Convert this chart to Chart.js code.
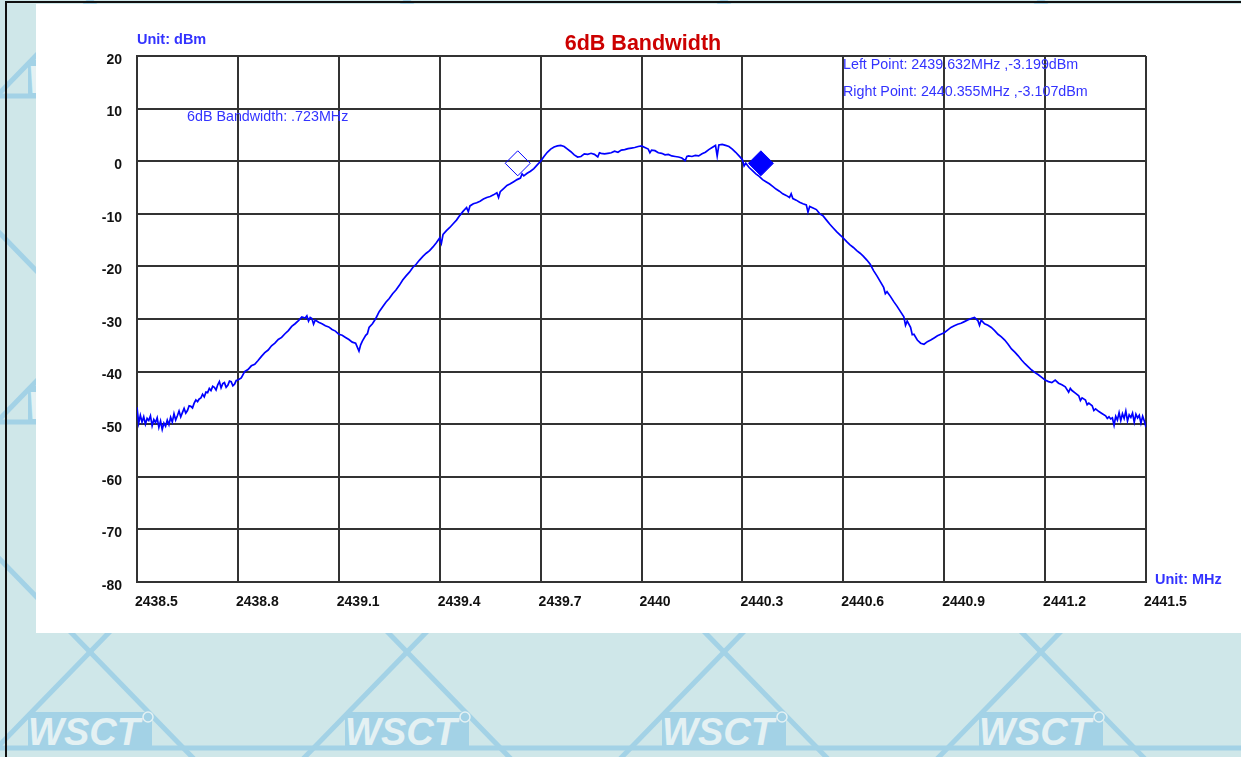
<!DOCTYPE html>
<html>
<head>
<meta charset="utf-8">
<script src="https://cdn.jsdelivr.net/npm/chart.js@4.4.0/dist/chart.umd.min.js"></script>
<style>
html, body { margin: 0; padding: 0; }
body { width: 1241px; height: 757px; position: relative; overflow: hidden; background: #cfe7e9; font-family: "Liberation Sans", Arial, sans-serif; }
#wm { position: absolute; left: 0; top: 0; }
#frameTop { position: absolute; left: 5px; top: 1px; width: 1236px; height: 2px; background: #111; }
#frameLeft { position: absolute; left: 5px; top: 1px; width: 2px; height: 756px; background: #111; }
#panel { position: absolute; left: 36px; top: 4px; width: 1205px; height: 629px; background: #fff; }
</style>
</head>
<body>
<svg id="wm" width="1241" height="757" xmlns="http://www.w3.org/2000/svg"></svg>
<div id="frameTop"></div>
<div id="frameLeft"></div>
<div id="panel"><canvas id="chart"></canvas></div>
<script>
// ==================== DATA ====================
const chartTitle = '6dB Bandwidth';
const yUnitLabel = 'Unit: dBm';
const xUnitLabel = 'Unit: MHz';
const bandwidthText = '6dB Bandwidth: .723MHz';
const leftPointText = 'Left Point: 2439.632MHz ,-3.199dBm';
const rightPointText = 'Right Point: 2440.355MHz ,-3.107dBm';

const freqTicks = [2438.5, 2438.8, 2439.1, 2439.4, 2439.7, 2440, 2440.3, 2440.6, 2440.9, 2441.2, 2441.5];
const freqTickLabels = ['2438.5', '2438.8', '2439.1', '2439.4', '2439.7', '2440', '2440.3', '2440.6', '2440.9', '2441.2', '2441.5'];
const levelTicks = [20, 10, 0, -10, -20, -30, -40, -50, -60, -70, -80];
const levelTickLabels = ['20', '10', '0', '-10', '-20', '-30', '-40', '-50', '-60', '-70', '-80'];

// marker positions as drawn on the trace [MHz, dBm]
const leftMarker = [2439.632, -0.4];
const rightMarker = [2440.355, -0.4];

// trace [MHz, dBm]
const tracePoints = [
  [2438.500,-46.8],[2438.505,-49.8],[2438.510,-48.3],[2438.515,-49.6],[2438.520,-48.6],[2438.525,-50.0],
  [2438.530,-48.9],[2438.535,-49.3],[2438.540,-48.4],[2438.545,-50.3],[2438.550,-49.1],[2438.555,-49.7],
  [2438.560,-48.8],[2438.565,-50.6],[2438.570,-49.4],[2438.575,-51.0],[2438.580,-49.8],[2438.585,-50.4],
  [2438.590,-49.2],[2438.595,-50.1],[2438.600,-48.7],[2438.605,-49.6],[2438.610,-48.0],[2438.615,-49.2],
  [2438.620,-48.4],[2438.625,-47.5],[2438.630,-48.6],[2438.635,-47.8],[2438.640,-47.0],[2438.645,-47.9],
  [2438.650,-47.4],[2438.655,-46.5],[2438.660,-46.6],[2438.665,-46.9],[2438.670,-46.0],[2438.675,-45.4],
  [2438.680,-45.7],[2438.685,-45.2],[2438.690,-45.0],[2438.695,-44.3],[2438.700,-44.8],[2438.705,-43.9],
  [2438.710,-44.0],[2438.715,-43.2],[2438.720,-43.6],[2438.725,-42.8],[2438.730,-43.0],[2438.735,-43.5],
  [2438.740,-42.5],[2438.745,-41.9],[2438.750,-43.1],[2438.755,-42.3],[2438.760,-42.1],[2438.765,-43.0],
  [2438.770,-42.6],[2438.775,-41.8],[2438.780,-41.9],[2438.785,-42.7],[2438.790,-42.4],[2438.795,-41.7],
  [2438.800,-41.6],[2438.810,-41.2],[2438.820,-40.0],[2438.830,-39.6],
  [2438.840,-38.9],[2438.850,-38.6],[2438.860,-37.9],[2438.870,-37.1],[2438.880,-36.4],[2438.890,-35.9],
  [2438.900,-35.1],[2438.910,-34.6],[2438.920,-33.9],[2438.930,-33.5],[2438.940,-32.8],[2438.950,-32.2],
  [2438.960,-31.4],[2438.970,-30.9],[2438.980,-30.3],[2438.990,-29.6],[2439.000,-29.8],[2439.005,-29.4],
  [2439.010,-30.4],[2439.015,-29.7],[2439.020,-29.9],[2439.025,-31.0],[2439.030,-30.2],[2439.040,-30.6],
  [2439.050,-30.9],[2439.060,-31.3],[2439.070,-31.5],[2439.080,-32.0],[2439.090,-32.3],[2439.100,-32.9],
  [2439.110,-33.1],[2439.120,-33.5],[2439.130,-33.9],[2439.140,-34.4],[2439.150,-34.6],[2439.160,-36.1],
  [2439.165,-34.9],[2439.170,-34.2],[2439.180,-33.1],[2439.185,-32.8],[2439.190,-31.6],[2439.200,-30.9],
  [2439.210,-29.9],[2439.220,-28.6],[2439.230,-27.7],[2439.240,-26.8],[2439.250,-26.1],[2439.260,-25.2],
  [2439.270,-24.5],[2439.280,-23.6],[2439.290,-22.6],[2439.300,-21.8],[2439.310,-21.1],[2439.320,-20.2],
  [2439.330,-19.6],[2439.340,-18.8],[2439.350,-18.1],[2439.360,-17.5],[2439.370,-17.0],[2439.380,-16.3],
  [2439.390,-15.5],[2439.400,-14.6],[2439.405,-15.6],[2439.410,-13.9],[2439.420,-13.2],[2439.430,-12.6],
  [2439.440,-11.9],[2439.450,-11.2],[2439.460,-10.3],[2439.470,-9.5],[2439.480,-8.8],[2439.485,-9.6],
  [2439.490,-8.5],[2439.500,-8.1],[2439.510,-7.9],[2439.520,-7.6],[2439.530,-7.2],[2439.540,-6.9],
  [2439.550,-6.7],[2439.560,-6.4],[2439.570,-6.0],[2439.575,-6.9],[2439.580,-5.8],[2439.590,-5.2],
  [2439.600,-4.6],[2439.610,-4.3],[2439.620,-3.9],[2439.630,-3.5],[2439.640,-3.2],[2439.645,-2.4],
  [2439.650,-2.8],[2439.660,-2.3],[2439.670,-1.9],[2439.680,-1.4],[2439.690,-0.7],[2439.700,0.0],
  [2439.710,0.9],[2439.720,1.7],[2439.730,2.3],[2439.740,2.7],[2439.750,2.9],[2439.760,3.0],
  [2439.770,2.8],[2439.780,2.3],[2439.790,1.8],[2439.800,1.2],[2439.810,0.8],[2439.820,0.9],
  [2439.830,1.4],[2439.840,1.3],[2439.850,1.5],[2439.860,1.3],[2439.870,0.8],[2439.875,1.6],
  [2439.880,1.5],[2439.890,1.4],[2439.900,1.5],[2439.910,1.6],[2439.920,1.9],[2439.930,1.7],
  [2439.940,2.1],[2439.950,2.2],[2439.960,2.4],[2439.970,2.5],[2439.980,2.6],[2439.990,2.8],
  [2440.000,2.9],[2440.010,2.6],[2440.020,2.3],[2440.025,1.6],[2440.030,2.1],[2440.040,2.0],
  [2440.050,1.6],[2440.060,1.5],[2440.070,1.2],[2440.080,1.3],[2440.090,1.0],[2440.100,0.9],
  [2440.110,0.8],[2440.120,0.6],[2440.130,0.1],[2440.135,0.9],[2440.140,1.0],[2440.150,0.9],
  [2440.160,1.1],[2440.170,1.0],[2440.180,1.4],[2440.190,1.7],[2440.200,2.2],[2440.210,2.6],
  [2440.220,3.0],[2440.225,1.0],[2440.230,3.1],[2440.240,3.2],[2440.250,3.0],[2440.260,2.8],
  [2440.270,2.3],[2440.280,1.7],[2440.290,1.0],[2440.300,0.3],[2440.305,-0.9],[2440.310,-0.4],
  [2440.320,-1.2],[2440.330,-1.8],[2440.340,-2.4],[2440.350,-2.9],[2440.360,-3.5],[2440.370,-3.9],
  [2440.380,-4.3],[2440.390,-4.8],[2440.400,-5.3],[2440.410,-5.7],[2440.420,-6.2],[2440.430,-6.5],
  [2440.440,-6.9],[2440.445,-6.2],[2440.450,-7.1],[2440.460,-7.4],[2440.470,-7.8],[2440.480,-8.1],
  [2440.490,-8.3],[2440.495,-9.7],[2440.500,-8.6],[2440.510,-8.9],[2440.520,-9.2],[2440.530,-10.0],
  [2440.540,-10.4],[2440.550,-11.2],[2440.560,-12.0],[2440.570,-12.7],[2440.580,-13.4],[2440.590,-14.0],
  [2440.600,-14.6],[2440.610,-15.3],[2440.620,-15.9],[2440.630,-16.4],[2440.640,-17.0],[2440.650,-17.5],
  [2440.660,-18.1],[2440.670,-18.8],[2440.680,-19.6],[2440.690,-20.8],[2440.700,-21.8],[2440.710,-22.9],
  [2440.720,-24.0],[2440.725,-25.2],[2440.730,-24.8],[2440.740,-25.7],[2440.750,-26.7],[2440.760,-27.6],
  [2440.770,-28.6],[2440.780,-29.6],[2440.785,-31.2],[2440.790,-30.4],[2440.800,-31.6],[2440.805,-33.0],
  [2440.810,-32.9],[2440.820,-34.0],[2440.830,-34.6],[2440.840,-34.8],[2440.850,-34.3],[2440.860,-34.0],
  [2440.870,-33.6],[2440.880,-33.2],[2440.890,-32.9],[2440.900,-32.6],[2440.910,-32.1],[2440.920,-31.6],
  [2440.930,-31.3],[2440.940,-31.0],[2440.950,-30.8],[2440.960,-30.5],[2440.970,-30.2],[2440.980,-29.9],
  [2440.990,-29.7],[2441.000,-30.3],[2441.005,-31.2],[2441.010,-30.2],[2441.020,-30.9],[2441.030,-31.2],
  [2441.040,-31.6],[2441.050,-32.2],[2441.060,-32.9],[2441.070,-33.4],[2441.080,-34.0],[2441.090,-34.8],
  [2441.100,-35.7],[2441.110,-36.3],[2441.120,-37.0],[2441.130,-37.8],[2441.140,-38.5],[2441.150,-39.1],
  [2441.160,-39.7],[2441.170,-40.2],[2441.180,-40.6],[2441.190,-41.1],[2441.200,-41.6],[2441.210,-41.9],
  [2441.220,-42.1],[2441.230,-41.6],[2441.240,-42.2],[2441.250,-42.5],[2441.260,-42.9],[2441.270,-43.9],
  [2441.275,-43.2],[2441.280,-43.6],[2441.290,-44.1],[2441.300,-44.6],[2441.305,-45.5],[2441.310,-45.0],
  [2441.320,-45.4],[2441.325,-46.3],[2441.330,-46.0],[2441.340,-46.5],[2441.345,-47.4],[2441.350,-47.1],
  [2441.360,-47.6],[2441.370,-48.0],[2441.380,-48.4],
  [2441.385,-48.9],[2441.390,-48.6],[2441.395,-49.0],[2441.400,-48.8],[2441.405,-50.2],[2441.410,-48.5],
  [2441.415,-49.2],[2441.420,-47.8],[2441.425,-49.3],[2441.430,-48.0],[2441.435,-48.9],[2441.440,-47.5],
  [2441.445,-49.4],[2441.450,-48.2],[2441.455,-48.7],[2441.460,-47.9],[2441.465,-49.6],[2441.470,-48.1],
  [2441.475,-48.8],[2441.480,-48.3],[2441.485,-49.8],[2441.490,-48.5],[2441.495,-49.4],[2441.500,-50.6]
];

// ==================== WATERMARK ====================
function buildWatermark() {
    const svg = document.getElementById('wm');
    const col = '#a3d2e6';
    const dx = 317, dy = 326, x0 = 90, y0 = 652;
    const t = 1200;
    let out = '';
    for (let k = -4; k <= 6; k++) {
        const cx = x0 + k * dx;
        out += `<line x1="${cx - t * dx / dy}" y1="${y0 - t}" x2="${cx + t * dx / dy}" y2="${y0 + t}" stroke="${col}" stroke-width="5"/>`;
        out += `<line x1="${cx + t * dx / dy}" y1="${y0 - t}" x2="${cx - t * dx / dy}" y2="${y0 + t}" stroke="${col}" stroke-width="5"/>`;
    }
    for (let m = 0; m <= 2; m++) {
        const hy = 748 - m * dy;
        out += `<line x1="0" y1="${hy}" x2="1241" y2="${hy}" stroke="${col}" stroke-width="5"/>`;
        for (let k = -1; k <= 4; k++) {
            const lx = x0 + k * dx, ly = 731 - m * dy;
            out += `<rect x="${lx - 62}" y="${ly - 19}" width="124" height="36" fill="${col}"/>`;
            out += `<text x="${lx - 6}" y="${ly + 14}" text-anchor="middle" font-family="Liberation Sans, Arial" font-weight="bold" font-style="italic" font-size="38" fill="#e4f1f3">WSCT</text>`;
            out += `<circle cx="${lx + 58}" cy="${ly - 14}" r="5" fill="none" stroke="#e4f1f3" stroke-width="1.5"/>`;
        }
    }
    svg.innerHTML = out;
}
buildWatermark();

// ==================== CHART ====================
const annotationPlugin = {
    id: 'annotations',
    afterDraw(chart) {
        const ctx = chart.ctx;
        ctx.save();
        ctx.textBaseline = 'middle';
        ctx.textAlign = 'center';
        ctx.fillStyle = '#cc0000';
        ctx.font = 'bold 21.5px "Liberation Sans", Arial';
        ctx.fillText(chartTitle, 607, 40);

        ctx.textAlign = 'left';
        ctx.fillStyle = '#3333ff';
        ctx.font = 'bold 14.5px "Liberation Sans", Arial';
        ctx.fillText(yUnitLabel, 101, 36);
        ctx.fillText(xUnitLabel, 1119, 576);

        ctx.font = '14.3px "Liberation Sans", Arial';
        ctx.fillText(bandwidthText, 151, 113);
        ctx.fillText(leftPointText, 807, 61);
        ctx.fillText(rightPointText, 807, 88);
        ctx.restore();
    }
};

const gridColor = '#333333';

new Chart(document.getElementById('chart'), {
    type: 'line',
    data: {
        datasets: [
            {
                data: tracePoints.map(p => ({ x: p[0], y: p[1] })),
                borderColor: '#0000ff',
                borderWidth: 1.7,
                pointRadius: 0,
                tension: 0
            },
            {
                data: [{ x: leftMarker[0], y: leftMarker[1] }],
                showLine: false,
                pointStyle: 'rectRot',
                pointRadius: 12.5,
                pointBorderWidth: 1,
                pointBorderColor: '#0000ff',
                pointBackgroundColor: 'rgba(0,0,0,0)'
            },
            {
                data: [{ x: rightMarker[0], y: rightMarker[1] }],
                showLine: false,
                pointStyle: 'rectRot',
                pointRadius: 12.5,
                pointBorderWidth: 1,
                pointBorderColor: '#0000ff',
                pointBackgroundColor: '#0000ff'
            }
        ]
    },
    options: {
        responsive: true,
        maintainAspectRatio: false,
        animation: false,
        events: [],
        layout: { padding: { top: 52, right: 95, left: 0, bottom: 0 } },
        plugins: {
            legend: { display: false },
            tooltip: { enabled: false },
            title: { display: false }
        },
        scales: {
            x: {
                type: 'linear',
                min: freqTicks[0],
                max: freqTicks[freqTicks.length - 1],
                afterBuildTicks: s => { s.ticks = freqTicks.map(v => ({ value: v })); },
                afterFit: s => { s.height = 51; },
                grid: { color: gridColor, lineWidth: 2, drawTicks: false },
                border: { display: true, color: gridColor, width: 2 },
                ticks: {
                    align: 'start',
                    labelOffset: -2,
                    padding: 12,
                    maxRotation: 0,
                    autoSkip: false,
                    color: '#111',
                    font: { family: '"Liberation Sans", Arial', size: 14, weight: 'bold' },
                    callback: (v, i) => freqTickLabels[i]
                }
            },
            y: {
                type: 'linear',
                min: -80,
                max: 20,
                afterBuildTicks: s => { s.ticks = levelTicks.slice().reverse().map(v => ({ value: v })); },
                afterFit: s => { s.width = 101; },
                grid: { color: gridColor, lineWidth: 2, drawTicks: false },
                border: { display: true, color: gridColor, width: 2 },
                ticks: {
                    padding: 15,
                    labelOffset: 4,
                    autoSkip: false,
                    color: '#111',
                    font: { family: '"Liberation Sans", Arial', size: 14, weight: 'bold' },
                    callback: (v, i) => levelTickLabels[levelTicks.length - 1 - i]
                }
            }
        }
    },
    plugins: [annotationPlugin]
});
</script>
</body>
</html>
